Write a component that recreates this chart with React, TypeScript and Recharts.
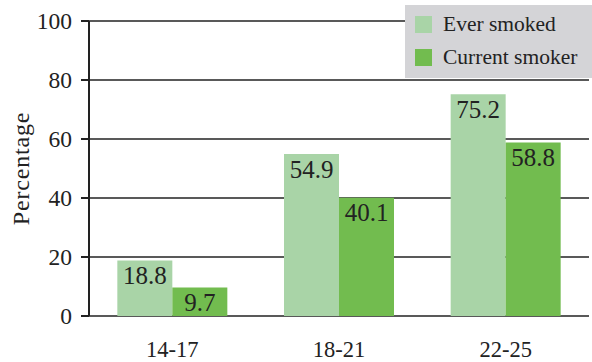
import React from 'react';
import {
  BarChart, Bar, XAxis, YAxis, CartesianGrid, Legend, LabelList,
} from 'recharts';

// age groups
const ageGroups = ['14-17', '18-21', '22-25'];
// percentages per series
const everSmoked = [18.8, 54.9, 75.2];
const currentSmoker = [9.7, 40.1, 58.8];
const yTicks = [0, 20, 40, 60, 80, 100];
const boundaryTicks = [0, 1, 2, 3];

const seriesNames = { ever: 'Ever smoked', current: 'Current smoker' };
const LIGHT = '#a9d4a7';
const DARK = '#72bc4f';
const INK = '#222';
const FONT = '"Liberation Serif", "Times New Roman", serif';

const data = ageGroups.map((g, i) => ({
  group: g,
  ever: everSmoked[i],
  current: currentSmoker[i],
}));

const LegendBox = () => (
  <div
    style={{
      background: '#d4d4d7',
      width: 187,
      height: 73,
      boxSizing: 'border-box',
      padding: '3px 0 0 10px',
      fontFamily: FONT,
      fontSize: 21.5,
      color: INK,
    }}
  >
    {[
      { label: seriesNames.ever, color: LIGHT },
      { label: seriesNames.current, color: DARK },
    ].map((it) => (
      <div key={it.label} style={{ display: 'flex', alignItems: 'center', height: 33, lineHeight: '33px' }}>
        <span style={{ display: 'inline-block', width: 17, height: 17, background: it.color, marginRight: 11 }} />
        <span>{it.label}</span>
      </div>
    ))}
  </div>
);

const YLabel = (props: any) => {
  const vb = props.viewBox || { y: 21, height: 295 };
  const cy = vb.y + vb.height / 2;
  return (
    <text
      x={29}
      y={cy}
      transform={`rotate(-90 29 ${cy})`}
      textAnchor="middle"
      fontFamily={FONT}
      fontSize={24}
      letterSpacing={0.8}
      fill={INK}
    >
      Percentage
    </text>
  );
};

export default function App() {
  return (
    <div style={{ position: 'absolute', left: 0, top: 0, background: '#fff' }}>
      <BarChart
        width={592}
        height={362}
        data={data}
        margin={{ top: 21, right: 3, left: 0, bottom: 0 }}
        barCategoryGap="17%"
        barGap={0}
      >
        <CartesianGrid vertical={false} stroke={INK} strokeWidth={1.3} />
        <XAxis
          xAxisId="bounds"
          type="number"
          domain={[0, 3]}
          ticks={boundaryTicks}
          tick={false}
          height={0}
          tickSize={6}
          axisLine={{ stroke: INK, strokeWidth: 2 }}
          tickLine={{ stroke: INK, strokeWidth: 2 }}
        />
        <XAxis
          dataKey="group"
          height={46}
          axisLine={false}
          tickLine={false}
          tickSize={0}
          tickMargin={25}
          tick={{ fill: INK, fontSize: 22.5, fontFamily: FONT }}
        />
        <YAxis
          width={89}
          domain={[0, 100]}
          ticks={yTicks}
          interval={0}
          tickSize={8}
          tickMargin={9}
          axisLine={{ stroke: INK, strokeWidth: 2 }}
          tickLine={{ stroke: INK, strokeWidth: 2 }}
          tick={{ fill: INK, fontSize: 23.5, fontFamily: FONT }}
          label={YLabel}
        />
        <Legend
          layout="vertical"
          align="center"
          verticalAlign="middle"
          wrapperStyle={{ top: 5, left: 405, width: 187 }}
          content={LegendBox}
        />
        <Bar dataKey="ever" name={seriesNames.ever} fill={LIGHT} isAnimationActive={false}>
          <LabelList dataKey="ever" position="insideTop" offset={6} fill={INK} fontSize={25} fontFamily={FONT} />
        </Bar>
        <Bar dataKey="current" name={seriesNames.current} fill={DARK} isAnimationActive={false}>
          <LabelList dataKey="current" position="insideTop" offset={6} fill={INK} fontSize={25} fontFamily={FONT} />
        </Bar>
      </BarChart>
    </div>
  );
}
